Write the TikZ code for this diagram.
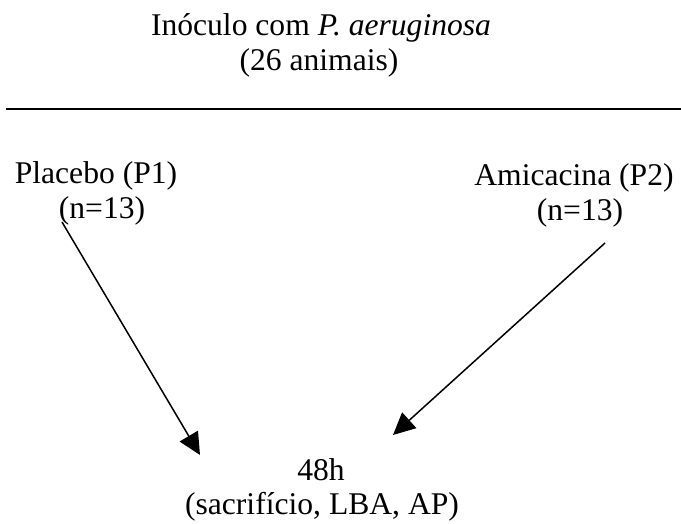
\documentclass[tikz,border=0pt]{standalone}
\usepackage{fontspec}
\setmainfont{Liberation Serif}
\usetikzlibrary{arrows.meta}
\tikzset{
  lbl/.style={inner sep=0pt, anchor=base, font=\fontsize{31.6}{35}\selectfont},
  conn/.style={line width=1.5pt, -{Triangle[length=22pt,width=21pt]}},
  rule/.style={line width=1.8pt}
}
\begin{document}
\begin{tikzpicture}[x=1pt,y=-1pt]
\useasboundingbox (0,0) rectangle (681,524);
\node[lbl] (t1) at (321,36) {Inóculo com \textit{P. aeruginosa}};
\node[lbl] (t2) at (319,71) {(26 animais)};
\coordinate (rl) at (6,109);
\coordinate (rr) at (681,109);
\draw[rule] (rl) -- (rr);
\node[lbl] (p1) at (96,184) {Placebo (P1)};
\node[lbl] (p1n) at (102,219) {(n=13)};
\node[lbl] (p2) at (574,186) {Amicacina (P2)};
\node[lbl] (p2n) at (580,221) {(n=13)};
\node[lbl] (h) at (321,480) {48h};
\node[lbl] (hs) at (322,514) {(sacrifício, LBA, AP)};
\coordinate (a1s) at (62,222);
\coordinate (a1e) at (200,455);
\coordinate (a2s) at (605,243);
\coordinate (a2e) at (393,435);
\draw[conn] (a1s) -- (a1e);
\draw[conn] (a2s) -- (a2e);
\end{tikzpicture}
\end{document}
